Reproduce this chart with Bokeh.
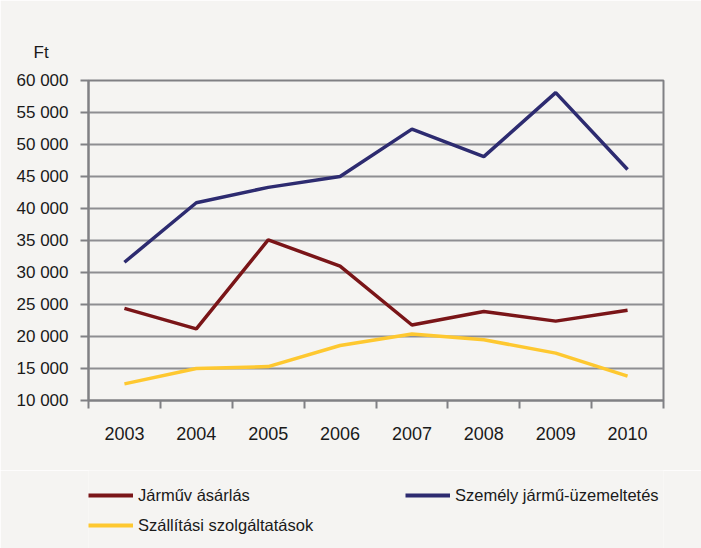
from bokeh.plotting import figure
from bokeh.layouts import column
from bokeh.models import Range1d, FixedTicker, Legend, LegendItem, Title
from bokeh.embed import file_html
from bokeh.resources import INLINE

# ---- data ----
years = ["2003", "2004", "2005", "2006", "2007", "2008", "2009", "2010"]
jarmu_vasarlas = [24400, 21200, 35100, 31000, 21800, 23900, 22400, 24100]
szemely_uzemeltetes = [31600, 40900, 43300, 45000, 52400, 48100, 58100, 46100]
szallitasi = [12600, 15000, 15300, 18600, 20400, 19500, 17400, 13800]
series_names = ["Járműv ásárlás", "Személy jármű-üzemeltetés", "Szállítási szolgáltatások"]
series_colors = ["#7a1518", "#2d2b70", "#fec830"]
y_ticks = [10000, 15000, 20000, 25000, 30000, 35000, 40000, 45000, 50000, 55000, 60000]
y_tick_labels = ["10 000", "15 000", "20 000", "25 000", "30 000", "35 000",
                 "40 000", "45 000", "50 000", "55 000", "60 000"]
unit_label = "Ft"

BG = "#f5f4f2"
GRID = "#8e8e92"
AXIS = "#808084"
FONT = "Liberation Sans"
TXT = "#1a1a1a"

xs = [i + 0.5 for i in range(len(years))]
series = [jarmu_vasarlas, szemely_uzemeltetes, szallitasi]

p = figure(width=701, height=470, output_backend="svg", toolbar_location=None,
           x_range=Range1d(0, len(years)), y_range=Range1d(y_ticks[0], y_ticks[-1]),
           min_border_left=88, min_border_right=38, min_border_top=80, min_border_bottom=70)
p.background_fill_color = BG
p.border_fill_color = BG
p.outline_line_color = AXIS
p.outline_line_width = 2

renderers = [p.line(xs, s, line_color=c, line_width=3.5) for s, c in zip(series, series_colors)]

# x axis: labels at category centres, ticks at boundaries
xa = p.xaxis[0]
xa.ticker = FixedTicker(ticks=xs, minor_ticks=list(range(len(years) + 1)))
xa.major_label_overrides = {x: y for x, y in zip(xs, years)}
xa.major_tick_line_color = None
xa.major_tick_out = 0
xa.major_tick_in = 0
xa.minor_tick_out = 8
xa.minor_tick_in = 0
xa.minor_tick_line_color = AXIS
xa.minor_tick_line_width = 2
xa.axis_line_color = AXIS
xa.axis_line_width = 2
xa.major_label_standoff = 18
xa.major_label_text_font = FONT
xa.major_label_text_font_size = "18px"
xa.major_label_text_color = TXT

ya = p.yaxis[0]
ya.ticker = FixedTicker(ticks=y_ticks)
ya.major_label_overrides = {t: l for t, l in zip(y_ticks, y_tick_labels)}
ya.major_tick_out = 8
ya.major_tick_in = 0
ya.major_tick_line_color = AXIS
ya.major_tick_line_width = 2
ya.minor_tick_line_color = None
ya.axis_line_color = AXIS
ya.axis_line_width = 2
ya.major_label_standoff = 12
ya.major_label_text_font = FONT
ya.major_label_text_font_size = "17px"
ya.major_label_text_color = TXT

p.xgrid.grid_line_color = None
p.ygrid.grid_line_color = GRID
p.ygrid.grid_line_width = 2

p.add_layout(Title(text=unit_label, align="left", offset=-55, standoff=37,
                   text_font=FONT, text_font_size="17px", text_font_style="normal",
                   text_color=TXT), "above")

# ---- legend strip (same horizontal borders so frames line up) ----
lf = figure(width=701, height=78, output_backend="svg", toolbar_location=None,
            x_axis_location=None, y_axis_location=None,
            min_border_left=88, min_border_right=38, min_border_top=0, min_border_bottom=0,
            x_range=Range1d(0, len(years)), y_range=Range1d(-1, 0))
lf.background_fill_color = BG
lf.border_fill_color = BG
lf.outline_line_color = None
lf.grid.grid_line_color = None
# same series, but outside this strip's visible range: only their legend samples show
lr = [lf.line(xs, s, line_color=c, line_width=4) for s, c in zip(series, series_colors)]

def make_legend(items, loc):
    return Legend(items=items, location=loc, orientation="horizontal",
                  padding=0, margin=0, spacing=0, glyph_width=45, glyph_height=20,
                  label_height=20, label_width=267, label_standoff=5,
                  label_text_font=FONT, label_text_font_size="16.5px", label_text_color=TXT,
                  background_fill_alpha=0, border_line_color=None)

lf.add_layout(make_legend([LegendItem(label=series_names[0], renderers=[lr[0]]),
                           LegendItem(label=series_names[1], renderers=[lr[1]])], (0, 43)))
lf.add_layout(make_legend([LegendItem(label=series_names[2], renderers=[lr[2]])], (0, 13)))

layout = column(p, lf, spacing=0)
open("out.html", "w").write(file_html(layout, INLINE))
